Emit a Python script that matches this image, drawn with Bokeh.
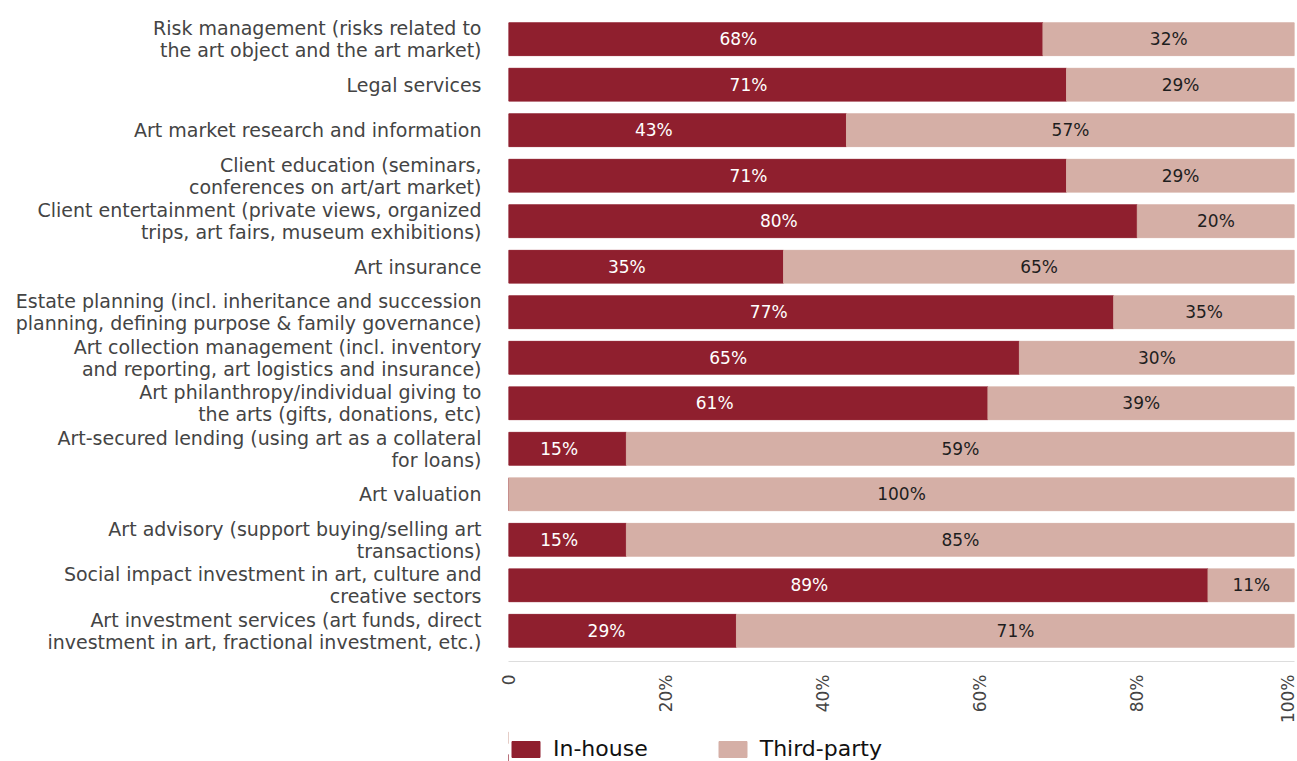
import math
from bokeh.plotting import figure
from bokeh.layouts import column
from bokeh.models import (FactorRange, Range1d, FixedTicker, Legend, LegendItem,
                          ColumnDataSource)
from bokeh.core.properties import value
from bokeh.embed import file_html
from bokeh.resources import INLINE

categories = [
    "Risk management (risks related to\nthe art object and the art market)",
    "Legal services",
    "Art market research and information",
    "Client education (seminars,\nconferences on art/art market)",
    "Client entertainment (private views, organized\ntrips, art fairs, museum exhibitions)",
    "Art insurance",
    "Estate planning (incl. inheritance and succession\nplanning, defining purpose & family governance)",
    "Art collection management (incl. inventory\nand reporting, art logistics and insurance)",
    "Art philanthropy/individual giving to\nthe arts (gifts, donations, etc)",
    "Art-secured lending (using art as a collateral\nfor loans)",
    "Art valuation",
    "Art advisory (support buying/selling art\ntransactions)",
    "Social impact investment in art, culture and\ncreative sectors",
    "Art investment services (art funds, direct\ninvestment in art, fractional investment, etc.)",
]
in_house = [68, 71, 43, 71, 80, 35, 77, 65, 61, 15, 0, 15, 89, 29]
third_party = [32, 29, 57, 29, 20, 65, 35, 30, 39, 59, 100, 85, 11, 71]
tick_values = [0, 20, 40, 60, 80, 100]
tick_labels = ["0", "20%", "40%", "60%", "80%", "100%"]
series_names = ["In-house", "Third-party"]

C_IN = "#8f1f2e"
C_TP = "#d5afa6"
FONT = "DejaVu Sans"
IN_LABEL_POS = 0.43  # in-house labels sit a little left of the segment centre

src = ColumnDataSource(dict(
    cat=categories,
    inh=in_house,
    full=[100] * len(categories),
    inh_mid=[v * IN_LABEL_POS for v in in_house],
    tp_mid=[v + (100 - v) / 2 for v in in_house],
    inh_lbl=[f"{v}%" if v > 0 else "" for v in in_house],
    tp_lbl=[f"{v}%" for v in third_party],
))

p = figure(frame_width=786, frame_height=653,
           y_range=FactorRange(factors=categories[::-1], range_padding=0.025),
           x_range=Range1d(0, 100),
           output_backend="svg", toolbar_location=None,
           min_border_left=508, min_border_right=3, min_border_top=8,
           min_border_bottom=60)
p.outline_line_color = None
p.xgrid.visible = False
p.ygrid.visible = False

p.hbar(y="cat", left=0, right="inh", height=0.72, color=C_IN, source=src)
p.hbar(y="cat", left="inh", right="full", height=0.72, color=C_TP, source=src)

p.text(x="inh_mid", y="cat", text="inh_lbl", source=src, text_align="center",
       text_baseline="middle", text_color="white", text_font=value(FONT),
       text_font_size="17px")
p.text(x="tp_mid", y="cat", text="tp_lbl", source=src, text_align="center",
       text_baseline="middle", text_color="#1e1e1e", text_font=value(FONT),
       text_font_size="17px")

ya = p.yaxis[0]
ya.axis_line_color = None
ya.major_tick_line_color = None
ya.minor_tick_line_color = None
ya.major_label_standoff = 21
ya.major_label_text_font = FONT
ya.major_label_text_font_size = "19px"
ya.major_label_text_line_height = 1.0
ya.major_label_text_color = "#444444"

xa = p.xaxis[0]
xa.ticker = FixedTicker(ticks=tick_values)
xa.major_label_overrides = {v: t for v, t in zip(tick_values, tick_labels)}
xa.major_label_orientation = math.pi / 2
xa.axis_line_color = "#dddddd"
xa.major_tick_line_color = None
xa.minor_tick_line_color = None
xa.major_label_standoff = 7
xa.major_label_text_font = FONT
xa.major_label_text_font_size = "17px"
xa.major_label_text_color = "#444444"

# legend strip below the chart (swatch renderers lie outside the visible range)
lg = figure(width=1297, height=45, x_range=Range1d(1, 2),
            y_range=FactorRange(factors=series_names),
            output_backend="svg", toolbar_location=None,
            x_axis_location=None, y_axis_location=None,
            min_border_left=0, min_border_right=0, min_border_top=0,
            min_border_bottom=0)
lg.outline_line_color = None
lg.xgrid.visible = False
lg.ygrid.visible = False
ri = lg.hbar(y=series_names[:1], left=[0], right=[0], height=0.5, color=C_IN)
rt = lg.hbar(y=series_names[1:], left=[0], right=[0], height=0.5, color=C_TP)
legend = Legend(items=[LegendItem(label=series_names[0], renderers=[ri]),
                       LegendItem(label=series_names[1], renderers=[rt])],
                orientation="horizontal", location=(0, 10),
                glyph_width=35, glyph_height=20, label_standoff=10, spacing=67,
                label_text_font=FONT, label_text_font_size="22px",
                label_text_color="#111111", border_line_color=None,
                margin=0, padding=0, background_fill_alpha=0)
lg.add_layout(legend, "center")

layout = column(p, lg, spacing=0)
open("out.html", "w").write(file_html(layout, INLINE))
